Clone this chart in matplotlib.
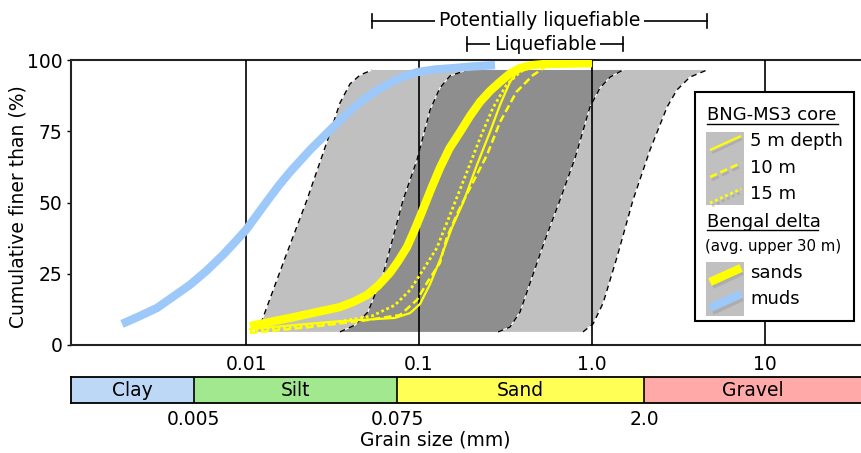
import matplotlib.pyplot as plt
import numpy as np
from matplotlib.patches import Rectangle

plt.rcParams['font.family'] = ['DejaVu Sans']

# --- grain-size envelopes (mm, % finer) ---
light_left_mm = [0.0114, 0.0124, 0.0168, 0.0225, 0.0306, 0.0349, 0.0399, 0.0456, 0.0535]
light_left_pct = [4.6, 8.8, 30.5, 50.9, 74.4, 84.9, 91.6, 94.7, 96.5]
light_right_mm = [0.887, 1.014, 1.159, 1.396, 1.726, 2.163, 2.716, 3.097, 3.681, 4.624]
light_right_pct = [4.6, 7.4, 14.7, 30.9, 50.9, 68.4, 83.5, 89.5, 94.0, 96.5]

dark_left_mm = [0.0349, 0.0427, 0.0507, 0.0619, 0.0809, 0.0973, 0.1159, 0.1321, 0.1510, 0.1892]
dark_left_pct = [4.6, 7.0, 11.6, 24.6, 50.9, 64.9, 82.5, 90.2, 94.4, 96.5]
dark_right_mm = [0.2864, 0.3357, 0.3837, 0.4385, 0.5346, 0.6531, 0.7980, 0.9727, 1.112, 1.271, 1.510]
dark_right_pct = [4.6, 6.3, 11.6, 21.8, 36.8, 50.9, 65.6, 83.5, 90.2, 94.0, 96.5]

# --- Bengal delta averages ---
muds_mm = [0.00192, 0.0024, 0.00306, 0.0038, 0.00474, 0.0059, 0.00736, 0.0086, 0.0100,
           0.0116, 0.0134, 0.0155, 0.01795, 0.0235, 0.0306, 0.0388, 0.0474, 0.0570,
           0.0679, 0.0800, 0.0986, 0.125, 0.1614, 0.20, 0.275]
muds_pct = [7.4, 10.0, 13.0, 17.0, 21.1, 26.0, 31.6, 36.0, 40.4,
            45.7, 50.9, 56.0, 60.7, 68.5, 75.4, 81.5, 86.0, 89.3,
            91.9, 94.0, 95.8, 96.7, 97.2, 97.7, 98.2]

sands_mm = [0.01054, 0.01795, 0.0349, 0.0420, 0.0500, 0.0580, 0.0679, 0.0760, 0.0853,
            0.0945, 0.1040, 0.117, 0.1321, 0.150, 0.1726, 0.198, 0.2254, 0.258,
            0.2938, 0.335, 0.3837, 0.45, 0.5346, 1.0]
sands_pct = [6.7, 9.5, 13.3, 15.2, 17.5, 20.8, 25.3, 29.5, 34.4,
             40.5, 46.7, 54.5, 62.1, 69.0, 74.7, 80.5, 85.3, 89.2,
             92.3, 95.2, 97.2, 98.2, 98.6, 98.9]

# --- BNG-MS3 core samples ---
d5_mm = [0.01054, 0.0306, 0.0726, 0.0888, 0.1014, 0.1159, 0.1321, 0.1548, 0.1795,
         0.2163, 0.2570, 0.2938, 0.3357, 0.3837, 0.5346]
d5_pct = [5.6, 8.1, 9.5, 11.2, 14.4, 21.4, 29.8, 41.1, 49.8, 63.2, 74.7, 84.2, 92.3, 97.2, 99.0]

d10_mm = [0.01054, 0.0234, 0.0456, 0.0776, 0.0973, 0.1112, 0.1321, 0.1445, 0.1679,
          0.1972, 0.2473, 0.2938, 0.3656, 0.4560, 0.5959]
d10_pct = [4.2, 6.3, 8.4, 10.5, 15.8, 21.8, 28.8, 37.5, 46.7, 55.1, 66.7, 78.2, 88.8, 94.7, 99.3]

d15_mm = [0.01054, 0.0306, 0.0535, 0.0726, 0.0888, 0.1054, 0.1267, 0.1510, 0.1892,
          0.2254, 0.2674, 0.3203, 0.3837, 0.4687]
d15_pct = [4.9, 7.7, 10.2, 14.0, 19.3, 26.3, 34.0, 45.6, 60.7, 72.6, 83.2, 91.2, 95.8, 98.2]

# --- grain size classes ---
class_names = ['Clay', 'Silt', 'Sand', 'Gravel']
class_edges = [0.005, 0.075, 2.0]
class_colors = ['#bdd8f7', '#a2e88f', '#ffff55', '#ffa9a9']

major_ticks = [0.01, 0.1, 1.0, 10]
major_labels = ['0.01', '0.1', '1.0', '10']

W, H = 861, 453
XMIN, XMAX = 10 ** -3.0116, 10 ** 1.5549
FS = 13.5
LIGHT = '#c0c0c0'
DARK = '#8e8e8e'
YELLOW = '#ffff00'
BLUE = '#9dc8fa'


def px_box(l, t, r, b):
    return [l / W, 1 - b / H, (r - l) / W, (b - t) / H]


fig = plt.figure(figsize=(W / 100, H / 100), dpi=100)
ax = fig.add_axes(px_box(71, 60, 861, 345))
ax.set_xscale('log')
ax.set_xlim(XMIN, XMAX)
ax.set_ylim(0, 100)

# envelopes
for lx, ly, rx, ry, col in [(light_left_mm, light_left_pct, light_right_mm, light_right_pct, LIGHT),
                            (dark_left_mm, dark_left_pct, dark_right_mm, dark_right_pct, DARK)]:
    px = list(lx) + list(rx)[::-1]
    py = list(ly) + list(ry)[::-1]
    ax.fill(px, py, color=col, lw=0, zorder=1)

for bx_, by_ in [(light_left_mm, light_left_pct), (light_right_mm, light_right_pct),
                 (dark_left_mm, dark_left_pct), (dark_right_mm, dark_right_pct)]:
    ax.plot(bx_, by_, color='white', lw=0.8, zorder=2)
    ax.plot(bx_, by_, color='black', lw=1.0, dashes=(4, 3), zorder=3)

for v in major_ticks:
    ax.axvline(v, color='black', lw=1.2, zorder=4)

ax.plot(muds_mm, muds_pct, color=BLUE, lw=6, solid_capstyle='butt',
        solid_joinstyle='round', zorder=5)
ax.plot(sands_mm, sands_pct, color=YELLOW, lw=6, solid_capstyle='butt',
        solid_joinstyle='round', zorder=6)
ax.plot(d5_mm, d5_pct, color=YELLOW, lw=1.6, zorder=7)
ax.plot(d10_mm, d10_pct, color=YELLOW, lw=1.8, dashes=(3, 1.5), zorder=7)
ax.plot(d15_mm, d15_pct, color=YELLOW, lw=2.0, dashes=(1, 1), zorder=7)

ax.spines['right'].set_visible(False)
for s in ['top', 'left', 'bottom']:
    ax.spines[s].set_linewidth(1.5)
    ax.spines[s].set_color('#222222')

ax.set_xticks(major_ticks)
ax.set_xticklabels(major_labels)
ax.xaxis.set_minor_locator(plt.NullLocator())
ax.tick_params(axis='x', length=0, pad=7, labelsize=FS)
ax.set_yticks([0, 25, 50, 75, 100])
ax.tick_params(axis='y', length=3, width=1, pad=3, labelsize=FS)
fig.text(18 / W, 1 - 207 / H, 'Cumulative finer than (%)', rotation=90,
         ha='center', va='center', fontsize=FS)

# liquefaction brackets above the plot
brackets = [(light_left_mm[-1], light_right_mm[-1], 113.7, 'Potentially liquefiable'),
            (dark_left_mm[-1], dark_right_mm[-1], 105.6, 'Liquefiable')]
for x0, x1, yb, label in brackets:
    ax.plot([x0, x1], [yb, yb], color='black', lw=1.2, clip_on=False, zorder=8)
    for xe in (x0, x1):
        ax.plot([xe, xe], [yb - 2.3, yb + 2.3], color='black', lw=1.2, clip_on=False, zorder=8)
    ax.text(np.sqrt(x0 * x1), yb, label, ha='center', va='center', fontsize=FS,
            zorder=9, bbox=dict(fc='white', ec='none', pad=3))

# grain size class bar
bar = fig.add_axes(px_box(71, 377, 861, 403))
bar.set_xscale('log')
bar.set_xlim(XMIN, XMAX)
bar.set_ylim(0, 1)
lims = [XMIN] + class_edges + [XMAX]
for i, name in enumerate(class_names):
    bar.axvspan(lims[i], lims[i + 1], color=class_colors[i], lw=0)
    bar.text(np.sqrt(lims[i] * lims[i + 1]), 0.5, name, ha='center', va='center', fontsize=FS)
for e in class_edges:
    bar.axvline(e, color='black', lw=1.2)
bar.spines['right'].set_visible(False)
for s in ['top', 'left', 'bottom']:
    bar.spines[s].set_linewidth(1.3)
bar.set_yticks([])
bar.set_xticks(class_edges)
bar.set_xticklabels(['0.005', '0.075', '2.0'])
bar.xaxis.set_minor_locator(plt.NullLocator())
bar.tick_params(axis='x', length=0, pad=5, labelsize=FS)
fig.text(435 / W, 1 - 440 / H, 'Grain size (mm)', ha='center', va='center', fontsize=FS)

# legend drawn in pixel coordinates
lax = fig.add_axes([0, 0, 1, 1], zorder=10)
lax.set_xlim(0, W)
lax.set_ylim(H, 0)
lax.axis('off')
lax.add_patch(Rectangle((695, 92), 159, 229, fc='white', ec='black', lw=1.5))
lax.add_patch(Rectangle((706, 132), 38, 73, fc=LIGHT, ec='none'))
lax.add_patch(Rectangle((706, 262), 38, 54, fc=LIGHT, ec='none'))

lax.text(707, 115, 'BNG-MS3 core', ha='left', va='center', fontsize=13)
lax.plot([707, 838], [124, 124], color='black', lw=1)
lax.text(707, 222, 'Bengal delta', ha='left', va='center', fontsize=13)
lax.plot([707, 818], [230, 230], color='black', lw=1)
lax.text(705, 246, '(avg. upper 30 m)', ha='left', va='center', fontsize=10.8)

items = [(150, 'solid', 1.6, YELLOW, '5 m depth'),
         (177, (0, (3, 1.5)), 1.8, YELLOW, '10 m'),
         (203, (0, (1, 1)), 2.0, YELLOW, '15 m'),
         (282, 'solid', 6, YELLOW, 'sands'),
         (308, 'solid', 6, BLUE, 'muds')]
for y0, ls, lw, col, label in items:
    lax.plot([712, 742], [y0 + 3, y0 - 11], color='#8a8a8a', lw=lw, ls=ls, alpha=0.35,
             solid_capstyle='butt')
    lax.plot([710, 741], [y0, y0 - 14], color=col, lw=lw, ls=ls, solid_capstyle='butt')
    lax.text(750, y0 - 9, label, ha='left', va='center', fontsize=13)

fig.savefig('out.png', dpi=100)
